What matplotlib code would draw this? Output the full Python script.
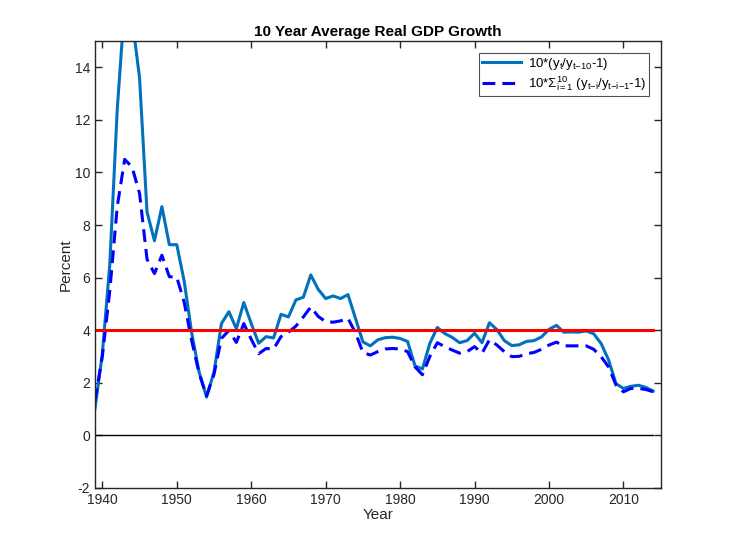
import numpy as np
import matplotlib
matplotlib.use("Agg")
import matplotlib.pyplot as plt

plt.rcParams['font.family'] = ['Liberation Sans', 'DejaVu Sans']
plt.rcParams['mathtext.fontset'] = 'custom'
plt.rcParams['mathtext.rm'] = 'Liberation Sans'
plt.rcParams['mathtext.it'] = 'Liberation Sans'
plt.rcParams['axes.unicode_minus'] = False

years = list(range(1939, 2015))

# 10*(y_t/y_{t-10}-1)
growth_ratio = [
    1.0, 3.1, 6.5, 12.4, 16.4, 15.85, 13.6, 8.5, 7.4, 8.7,
    7.25, 7.25, 5.85, 3.9, 2.4, 1.45, 2.4, 4.25, 4.7, 4.05,
    5.05, 4.25, 3.5, 3.75, 3.7, 4.6, 4.5, 5.15, 5.25, 6.1,
    5.55, 5.2, 5.3, 5.2, 5.35, 4.45, 3.55, 3.4, 3.63, 3.71,
    3.73, 3.68, 3.57, 2.64, 2.52, 3.5, 4.1, 3.87, 3.72, 3.52,
    3.6, 3.88, 3.52, 4.28, 4.02, 3.6, 3.41, 3.44, 3.57, 3.6,
    3.74, 4.03, 4.18, 3.92, 3.93, 3.92, 3.97, 3.86, 3.49, 2.87,
    1.96, 1.78, 1.86, 1.9, 1.82, 1.68,
]

# 10*sum of annual growth rates
growth_sum = [
    1.3, 3.0, 5.5, 8.7, 10.5, 10.2, 9.2, 6.7, 6.15, 6.85,
    6.03, 6.02, 5.05, 3.6, 2.35, 1.5, 2.32, 3.68, 3.99, 3.53,
    4.25, 3.65, 3.1, 3.3, 3.28, 3.75, 3.92, 4.15, 4.5, 4.88,
    4.52, 4.32, 4.3, 4.35, 4.45, 3.9, 3.15, 3.05, 3.18, 3.28,
    3.3, 3.28, 3.18, 2.6, 2.3, 3.0, 3.52, 3.37, 3.24, 3.12,
    3.18, 3.37, 3.12, 3.63, 3.43, 3.18, 2.99, 3.0, 3.1, 3.15,
    3.27, 3.43, 3.54, 3.4, 3.4, 3.4, 3.4, 3.27, 2.99, 2.6,
    1.91, 1.65, 1.78, 1.78, 1.74, 1.65,
]

ref_level = 4

fig = plt.figure(figsize=(7.3, 5.48), dpi=100)
ax = fig.add_axes([0.13, 0.11, 0.775, 0.815])

ax.plot(years, growth_ratio, color='#0072BD', lw=2.2,
        label=r'10*(y$_t$/y$_{t\mathrm{-}10}$-1)')
ax.plot(years, growth_sum, color='#0000FF', lw=2.2, ls=(0, (4.2, 2.3)),
        label=r'10*$\Sigma_{i=1}^{10}$ (y$_{t\mathrm{-}i}$/y$_{t\mathrm{-}i\mathrm{-}1}$-1)')
ax.plot([years[0], years[-1]], [ref_level, ref_level], color='#FF0000', lw=2.2)
ax.plot([years[0], years[-1]], [0, 0], color='black', lw=1)

ax.set_xlim(1939, 2015)
ax.set_ylim(-2, 15)
ax.set_xticks(range(1940, 2011, 10))
ax.set_yticks(range(-2, 15, 2))

for s in ax.spines.values():
    s.set_color('#262626')
    s.set_linewidth(1.0)
ax.tick_params(direction='in', top=True, right=True, length=5,
               width=1.0, color='#262626', labelsize=10, labelcolor='#262626')

ax.set_title('10 Year Average Real GDP Growth', fontsize=11, fontweight='bold', pad=4)
ax.set_xlabel('Year', fontsize=11, color='#262626', labelpad=1)
ax.set_ylabel('Percent', fontsize=11, color='#262626', labelpad=1)

leg = ax.legend(loc='upper right', fontsize=9.5, frameon=True, fancybox=False,
                handlelength=3.0, handletextpad=0.5, borderaxespad=0.9,
                borderpad=0.2, labelspacing=0.2)
leg.get_frame().set_edgecolor('#262626')
leg.get_frame().set_linewidth(0.8)

fig.savefig('out.png', dpi=100)
